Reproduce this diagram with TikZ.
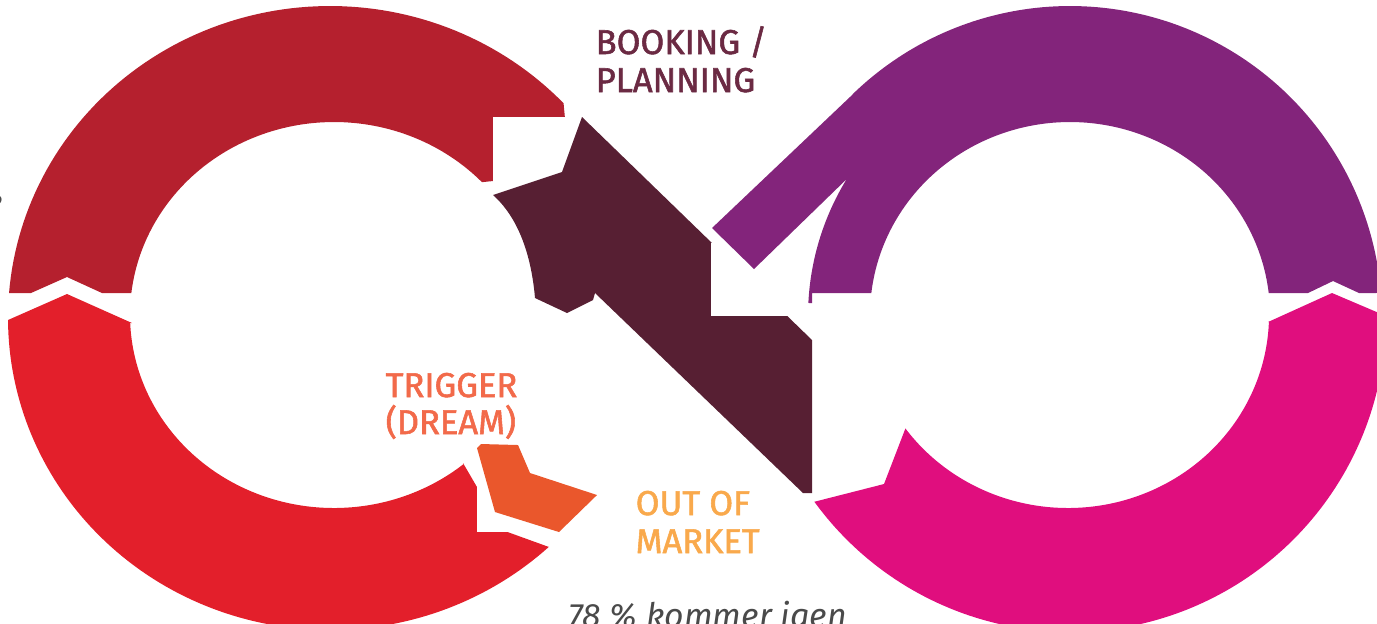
\documentclass[tikz,border=0pt]{standalone}
\usepackage{fontspec}
\setmainfont{Fira Sans}
\newfontface\lblfont{Fira Sans}[FakeBold=1.6]
\newfontfamily\notefont{Fira Sans}

\definecolor{topred}{HTML}{B5202E}
\definecolor{lowred}{HTML}{E31F2B}
\definecolor{dreamorange}{HTML}{EA572C}
\definecolor{bookband}{HTML}{571F33}
\definecolor{topviolet}{HTML}{83247B}
\definecolor{lowpink}{HTML}{E00E7E}
\definecolor{booktext}{HTML}{6B2A43}
\definecolor{triggertext}{HTML}{F26A4A}
\definecolor{markettext}{HTML}{F9A94C}
\definecolor{notegrey}{HTML}{4A4A4A}

\begin{document}
\begin{tikzpicture}[x=0.01cm,y=-0.01cm,
  lbl/.style={font=\lblfont\fontsize{9.8}{11}\selectfont, inner sep=0pt, anchor=base west},
  note/.style={font=\notefont\itshape\fontsize{9.6}{11}\selectfont, inner sep=0pt, text=notegrey},
  gap/.style={fill=white}]
\useasboundingbox (0,0) rectangle (1377,623);

% upper left arc, tail notch at the bottom
\fill[topred] (9,293)
  -- plot[domain=184.6:316.5,samples=90] ({330+322*cos(\x)},{318+312*sin(\x)})
  -- (567,140) -- (493,181)
  -- plot[domain=316.5:186.5,samples=90] ({334+204*cos(\x)},{315+193*sin(\x)})
  -- (102,293) -- (67,277) -- (31,293) -- cycle;
\fill[gap] (493,117) rectangle (572,186);

% lower left arc, pointed at its upper end
\fill[lowred] (132,323) -- (67,294) -- (8,320)
  -- plot[domain=179.6:47.2,samples=100] ({330+322*cos(\x)},{318+312*sin(\x)})
  -- (502,530) -- (463,463)
  -- plot[domain=50.5:177.6,samples=100] ({334+204*cos(\x)},{315+193*sin(\x)})
  -- cycle;
\fill[gap] (477,487) rectangle (510,532);

% small trigger chevron
\fill[dreamorange] (477,448) -- (481,444) -- (518,445) -- (530,473) -- (597,495)
  -- (559,532) -- (495,512) -- cycle;

% diagonal booking band with its arrow head
\fill[bookband] (582,117) -- (812,340) -- (812,493) -- (803,493) -- (595,293)
  -- (593,300) -- (567,313) -- (535,298)
  .. controls (530,240) and (510,210) .. (493,195) -- (562,172) -- cycle;
\fill[gap] (711,243) rectangle (812,316);

% upper right arc running into the straight band
\fill[topviolet] (712,228) -- (852.5,94.6)
  -- plot[domain=225.8:355.4,samples=120] ({1070+312*cos(\x)},{318+312*sin(\x)})
  -- (1359,293) -- (1333,281) -- (1308,293)
  -- plot[domain=353.45:186.55,samples=120] ({1070+200*cos(\x)},{315+193*sin(\x)})
  -- (812,293) -- (812,303)
  -- plot[domain=182.85:211.5,samples=30] ({1070+262*cos(\x)},{316+262*sin(\x)})
  -- (754,269) -- cycle;

% lower right arc, pointed at its right end
\fill[lowpink]
  plot[domain=144:0,samples=120] ({1070+316*cos(\x)},{316+316*sin(\x)})
  -- (1332,293) -- (1268,322)
  -- plot[domain=2:144,samples=120] ({1068+201*cos(\x)},{315+193*sin(\x)})
  -- (884,484) -- cycle;

% labels
\node[lbl, text=booktext] (booking) at (595,54) {BOOKING /};
\node[lbl, text=booktext] (planning) at (595,92) {PLANNING};
\node[lbl, text=triggertext] (trigger) at (385,397) {TRIGGER};
\node[lbl, text=triggertext] (dream) at (385,434) {(DREAM)};
\node[lbl, text=markettext] (outof) at (635,515) {OUT OF};
\node[lbl, text=markettext] (market) at (635,553) {MARKET};
\node[note, anchor=base west] (returns) at (568,627) {78 \% kommer igen};
\node[note, anchor=base east] (edgeword) at (4,213) {e};
\end{tikzpicture}
\end{document}
